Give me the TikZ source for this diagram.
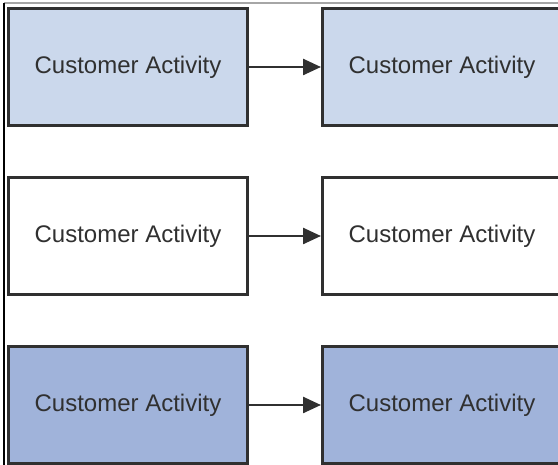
\documentclass[tikz,border=0pt]{standalone}
\usepackage{fontspec}
\setmainfont{Liberation Sans}
\usetikzlibrary{arrows.meta}
\definecolor{lightfill}{RGB}{203,216,236}
\definecolor{darkfill}{RGB}{160,179,218}
\definecolor{edge}{RGB}{48,48,48}
\tikzset{
  act/.style={draw=edge, line width=3pt, minimum width=239pt, minimum height=117pt,
    inner sep=0pt, font=\fontsize{24pt}{26pt}\selectfont, text=edge},
  flow/.style={draw=edge, line width=2.5pt, -{Triangle[length=18pt,width=16pt]}}
}
\begin{document}
\begin{tikzpicture}[x=1pt,y=-1pt]
\useasboundingbox (0,0) rectangle (558,465);
\clip (0,0) rectangle (558,465);
\fill[white] (0,0) rectangle (558,465);
\draw[gray!70, line width=1.2pt] (4,3) -- (558,3);
\draw[black, line width=1.2pt] (4,3) -- (4,465);
\node[act, fill=lightfill] (a1) at (128,67) {Customer Activity};
\node[act, fill=lightfill] (b1) at (442,67) {Customer Activity};
\node[act, fill=white] (a2) at (128,236) {Customer Activity};
\node[act, fill=white] (b2) at (442,236) {Customer Activity};
\node[act, fill=darkfill] (a3) at (128,405) {Customer Activity};
\node[act, fill=darkfill] (b3) at (442,405) {Customer Activity};
\draw[flow] (a1) -- (b1);
\draw[flow] (a2) -- (b2);
\draw[flow] (a3) -- (b3);
\end{tikzpicture}
\end{document}
